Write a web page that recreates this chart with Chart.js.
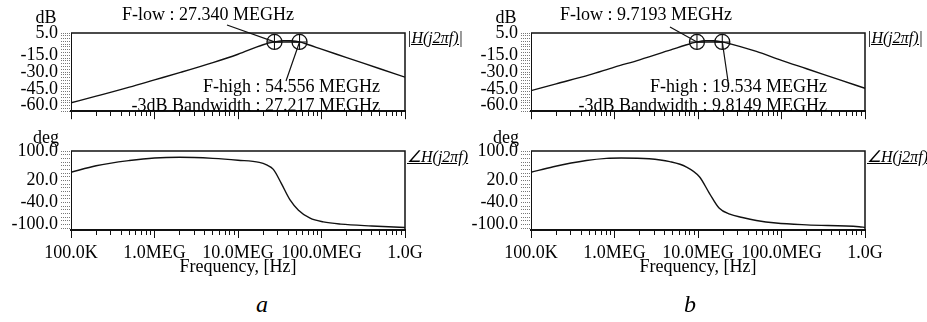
<!DOCTYPE html>
<html>
<head>
<meta charset="utf-8">
<script src="https://cdn.jsdelivr.net/npm/chart.js@4.4.0/dist/chart.umd.min.js"></script>
<style>
  body { margin: 0; background: #fff; }
  #wrap { position: relative; width: 927px; height: 322px; overflow: hidden;
          font-family: 'Liberation Serif', 'Times New Roman', serif; color: #000; }
  .panel { position: absolute; top: 0; width: 467px; height: 322px; }
  .panel canvas { position: absolute; left: 0; }
  .lbl { position: absolute; white-space: nowrap; transform: translate(-50%, -50%);
         font-size: 18px; line-height: 1; }
  .fn { position: absolute; white-space: nowrap; transform: translateY(-50%);
        font-size: 16px; font-style: italic; text-decoration: underline; line-height: 1; }
  .cap { position: absolute; font-style: italic; font-size: 24px; line-height: 1;
         transform: translateX(-50%); top: 292px; }
</style>
</head>
<body>
<div id="wrap">
  <div class="panel" style="left:0">
    <canvas id="magA" width="465" height="125" style="top:0"></canvas>
    <canvas id="phaseA" width="465" height="155" style="top:125px"></canvas>
    <div class="lbl" style="left:46px;top:17px">dB</div>
    <div class="lbl" style="left:46px;top:137px">deg</div>
    <div class="fn" style="left:407px;top:38px">|H(j2πf)|</div>
    <div class="fn" style="left:407px;top:157px">∠H(j2πf)</div>
    <div class="cap" style="left:262px">a</div>
  </div>
  <div class="panel" style="left:460px">
    <canvas id="magB" width="465" height="125" style="top:0"></canvas>
    <canvas id="phaseB" width="465" height="155" style="top:125px"></canvas>
    <div class="lbl" style="left:46px;top:17px">dB</div>
    <div class="lbl" style="left:46px;top:137px">deg</div>
    <div class="fn" style="left:407px;top:38px">|H(j2πf)|</div>
    <div class="fn" style="left:407px;top:157px">∠H(j2πf)</div>
    <div class="cap" style="left:230px">b</div>
  </div>
</div>
<script>
// axis ticks
const freqTicks = [1e5, 1e6, 1e7, 1e8, 1e9];
const freqTickLabels = ['100.0K', '1.0MEG', '10.0MEG', '100.0MEG', '1.0G'];
const dbTicks = [5, -15, -30, -45, -60];
const degTicks = [100, 20, -40, -100];
const cutoffDb = -3;

// panel a
const magFreqA = [1e5, 2e5, 5e5, 1e6, 2e6, 5e6, 1e7, 2e7, 2.734e7, 3.5e7, 4.3e7, 5.4556e7, 7e7, 1e8, 2e8, 5e8, 1e9];
const magA = [-57.5, -51.5, -43.5, -37, -30.5, -21.5, -14, -5.5, -3, -1.8, -2, -3, -5.5, -9.5, -17, -27, -34.5];
const phaseFreqA = [1e5, 2e5, 5e5, 1e6, 2e6, 5e6, 1e7, 1.8e7, 2.2e7, 2.65e7, 3.3e7, 4.2e7, 5.3e7, 7.3e7, 1.05e8, 1.7e8, 4e8, 1e9];
const phaseA = [42, 60, 74, 81, 83, 80, 75, 69, 62, 50, 12, -33, -61, -83, -93, -99, -104, -108];

// panel b
const magFreqB = [1e5, 2e5, 5e5, 1e6, 2e6, 5e6, 7e6, 9.7193e6, 1.2e7, 1.55e7, 1.9534e7, 2.5e7, 5e7, 1e8, 2e8, 5e8, 1e9];
const magB = [-46.6, -40.5, -32.5, -25.5, -19, -9.5, -6, -3, -1.8, -2, -3, -5, -11.5, -19.5, -27, -37, -44.5];
const phaseFreqB = [1e5, 1.85e5, 4.6e5, 8e5, 1.2e6, 2.6e6, 4.6e6, 7.2e6, 1.04e7, 1.37e7, 1.8e7, 2.4e7, 3.4e7, 5e7, 8.6e7, 2e8, 8.5e8, 1e9];
const phaseB = [42, 57, 74, 80, 81, 79, 71, 57, 30, -15, -56, -72, -81, -89, -96, -101, -106, -108];

// -3dB points (Hz)
const cornersA = { fLow: 27.340e6, fHigh: 54.556e6, bw: 27.217e6 };
const cornersB = { fLow: 9.7193e6, fHigh: 19.534e6, bw: 9.8149e6 };

const FONT = "'Liberation Serif', 'Times New Roman', serif";
Chart.defaults.font.family = FONT;
Chart.defaults.color = '#000';

function isDecade(v) {
  return freqTicks.indexOf(v) >= 0;
}

function freqAxis(showLabels, height) {
  return {
    type: 'logarithmic',
    min: freqTicks[0],
    max: freqTicks[freqTicks.length - 1],
    afterBuildTicks: (scale) => {
      let ticks = [];
      for (let i = 0; i < freqTicks.length; i++) {
        ticks.push({ value: freqTicks[i] });
        if (i === freqTicks.length - 1) break;
        for (let k = 2; k <= 9; k++) ticks.push({ value: freqTicks[i] * k });
      }
      scale.ticks = ticks;
    },
    afterFit: (scale) => { scale.height = height; },
    grid: {
      drawOnChartArea: false,
      tickLength: 8,
      tickColor: '#111',
      tickBorderDash: (ctx) => (ctx.tick && isDecade(ctx.tick.value)) ? [] : [4, 20]
    },
    border: { color: '#111', width: 2 },
    ticks: {
      display: showLabels,
      autoSkip: false,
      maxRotation: 0,
      minRotation: 0,
      padding: 4,
      font: { size: 18 },
      callback: (v) => {
        const i = freqTicks.indexOf(v);
        return i >= 0 ? freqTickLabels[i] : '';
      }
    },
    title: {
      display: showLabels,
      text: 'Frequency, [Hz]',
      font: { size: 18 },
      padding: { top: 0, bottom: 2 }
    }
  };
}

function valueAxis(min, max, step, labels) {
  return {
    min: min,
    max: max,
    afterBuildTicks: (scale) => {
      let ticks = [];
      for (let v = max; v >= min; v -= step) ticks.push({ value: v });
      scale.ticks = ticks;
    },
    afterFit: (scale) => { scale.width = 71; },
    grid: {
      drawOnChartArea: false,
      tickLength: 10,
      tickColor: '#777',
      tickBorderDash: [1, 1]
    },
    border: { color: '#111', width: 1 },
    ticks: {
      autoSkip: false,
      padding: 3,
      font: { size: 18 },
      callback: (v) => labels.includes(v) ? v.toFixed(1) : ''
    }
  };
}

const frame = {
  id: 'frame',
  afterDraw(chart) {
    const { ctx, chartArea: { left, top, right, bottom } } = chart;
    ctx.save();
    ctx.strokeStyle = '#111';
    ctx.lineWidth = 1.5;
    ctx.beginPath();
    ctx.moveTo(left, top);
    ctx.lineTo(right, top);
    ctx.lineTo(right, bottom);
    ctx.stroke();
    ctx.restore();
  }
};

function mhz(f) {
  return (f / 1e6).toPrecision(5);
}

function cornerNotes(c, pos) {
  return {
    id: 'cornerNotes',
    afterDatasetsDraw(chart) {
      const { ctx, scales: { x, y } } = chart;
      const yy = y.getPixelForValue(cutoffDb);
      const lowX = x.getPixelForValue(c.fLow);
      const highX = x.getPixelForValue(c.fHigh);
      ctx.save();
      ctx.strokeStyle = '#111';
      ctx.lineWidth = 1.2;
      ctx.beginPath();
      ctx.moveTo(pos.lowLead[0], pos.lowLead[1]);
      ctx.lineTo(lowX, yy);
      ctx.moveTo(pos.highLead[0], pos.highLead[1]);
      ctx.lineTo(highX, yy);
      ctx.stroke();
      ctx.font = `18px ${FONT}`;
      ctx.fillStyle = '#000';
      ctx.textBaseline = 'middle';
      ctx.textAlign = 'left';
      ctx.fillText(`F-low : ${mhz(c.fLow)} MEGHz`, pos.lowText[0], pos.lowText[1]);
      ctx.textAlign = 'right';
      ctx.fillText(`F-high : ${mhz(c.fHigh)} MEGHz`, pos.highText[0], pos.highText[1]);
      ctx.fillText(`-3dB Bandwidth : ${mhz(c.bw)} MEGHz`, pos.bwText[0], pos.bwText[1]);
      ctx.restore();
    }
  };
}

function points(xs, ys) {
  return xs.map((f, i) => ({ x: f, y: ys[i] }));
}

function baseOptions(padTop, xAxisOpts, yAxisOpts) {
  return {
    responsive: false,
    animation: false,
    layout: { padding: { left: 0, top: padTop, right: 60, bottom: 0 } },
    plugins: { legend: { display: false }, tooltip: { enabled: false } },
    scales: { x: xAxisOpts, y: yAxisOpts }
  };
}

function makePanel(key, magFreq, mag, phaseFreq, phase, c, pos) {
  new Chart(document.getElementById('mag' + key), {
    type: 'line',
    data: {
      datasets: [
        {
          data: points(magFreq, mag),
          borderColor: '#111',
          borderWidth: 1.4,
          pointRadius: 0,
          cubicInterpolationMode: 'monotone'
        },
        {
          data: [{ x: c.fLow, y: cutoffDb }, { x: c.fHigh, y: cutoffDb }],
          borderColor: '#111',
          borderWidth: 1.5,
          pointStyle: 'circle',
          pointRadius: 7.5,
          pointBorderWidth: 1.3,
          pointBackgroundColor: 'rgba(255,255,255,0)'
        },
        {
          data: [{ x: c.fLow, y: cutoffDb }, { x: c.fHigh, y: cutoffDb }],
          showLine: false,
          borderColor: '#111',
          pointStyle: 'cross',
          pointRadius: 7.5,
          pointBorderWidth: 1.1
        }
      ]
    },
    options: baseOptions(33, freqAxis(false, 12), valueAxis(-65, 5, 2.5, dbTicks)),
    plugins: [frame, cornerNotes(c, pos)]
  });

  new Chart(document.getElementById('phase' + key), {
    type: 'line',
    data: {
      datasets: [{
        data: points(phaseFreq, phase),
        borderColor: '#111',
        borderWidth: 1.4,
        pointRadius: 0,
        cubicInterpolationMode: 'monotone'
      }]
    },
    options: baseOptions(26, freqAxis(true, 50), valueAxis(-115, 100, 10, degTicks)),
    plugins: [frame]
  });
}

makePanel('A', magFreqA, magA, phaseFreqA, phaseA, cornersA, {
  lowText: [122, 15], highText: [380, 87], bwText: [380, 106],
  lowLead: [227, 25], highLead: [286, 81]
});
makePanel('B', magFreqB, magB, phaseFreqB, phaseB, cornersB, {
  lowText: [100, 15], highText: [367, 87], bwText: [367, 106],
  lowLead: [210, 27], highLead: [268, 81]
});
</script>
</body>
</html>
